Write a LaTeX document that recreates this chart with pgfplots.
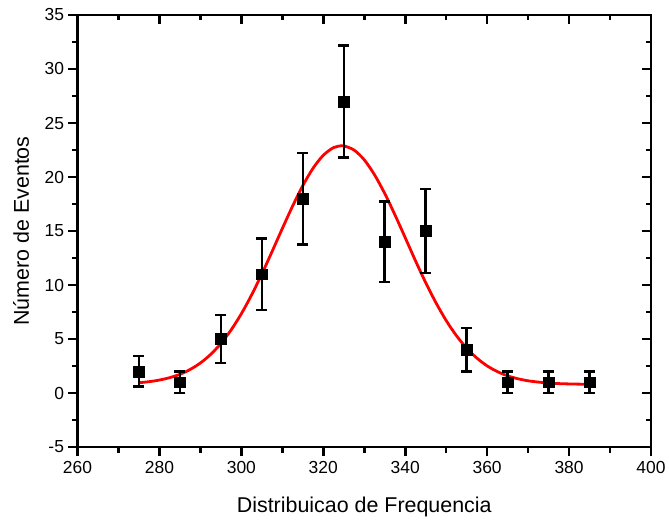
\documentclass[border=0pt]{standalone}
\usepackage{fontspec}
\setmainfont{Liberation Sans}
\usepackage{pgfplots}
\pgfplotsset{compat=1.18}
\usepackage{pgfplotstable}

\pgfplotstableread{
x y err
275 2 1.414
285 1 1.000
295 5 2.236
305 11 3.317
315 18 4.243
325 27 5.196
335 14 3.742
345 15 3.873
355 4 2.000
365 1 1.000
375 1 1.000
385 1 1.000
}\datatable

\pgfplotstableread{
x y
275 0.95
277.5 1.05
280 1.20
282.5 1.42
285 1.73
287.5 2.18
290 2.78
292.5 3.57
295 4.58
297.5 5.84
300 7.34
302.5 9.08
305 11.02
307.5 13.10
310 15.23
312.5 17.30
315 19.20
317.5 20.81
320 22.01
322.5 22.72
324.5 22.90
325 22.89
327.5 22.50
330 21.59
332.5 20.21
335 18.47
337.5 16.49
340 14.38
342.5 12.25
345 10.22
347.5 8.36
350 6.71
352.5 5.31
355 4.15
357.5 3.23
360 2.51
362.5 1.98
365 1.59
367.5 1.32
370 1.13
372.5 1.01
375 0.93
377.5 0.87
380 0.84
382.5 0.82
385 0.81
}\fittable

\begin{document}
\begin{tikzpicture}
\pgfplotsset{
  common/.style={
    scale only axis, width=573.5bp, height=432bp,
    xmin=260, xmax=400, ymin=-5, ymax=35,
    xtick={260,280,...,400}, minor x tick num=1,
    ytick={-5,0,...,35}, minor y tick num=1,
    major tick length=9bp, minor tick length=5.5bp,
    axis line style={line width=2.6bp, black},
    major tick style={black, line width=2.6bp},
    minor tick style={black, line width=2.6bp},
    /pgf/number format/assume math mode=true,
    tick label style={font=\fontsize{17.5}{20}\selectfont},
    label style={font=\fontsize{21.5}{25}\selectfont},
  }
}
\begin{axis}[common,
  tick align=outside, xtick pos=bottom, ytick pos=left,
  xlabel={Distribuicao de Frequencia},
  ylabel={Número de Eventos},
  xlabel style={at={(axis description cs:0.5,0)}, anchor=base, yshift=-65bp},
  ylabel style={at={(axis description cs:0,0.5)}, anchor=center, yshift=56.5bp},
  xticklabel style={yshift=-2bp},
  yticklabel style={xshift=-1bp},
]
\addplot[red, line width=2.8bp, smooth] table[x=x, y=y] {\fittable};
\addplot[black, only marks, mark=square*, mark size=5.4bp,
  error bars/.cd, y dir=both, y explicit,
  error bar style={line width=2.5bp, black},
  error mark options={rotate=90, mark size=5.5bp, line width=2.5bp, black}]
  table[x=x, y=y, y error=err] {\datatable};
\end{axis}
\begin{axis}[common,
  tick align=inside, xtick pos=top, ytick pos=right,
  xticklabels={}, yticklabels={},
]
\end{axis}
\draw[line width=2.6bp, black] (current axis.south west) rectangle (current axis.north east);
\path ([xshift=-77.5bp, yshift=-74bp]current axis.south west) rectangle ([xshift=18bp, yshift=15bp]current axis.north east);
\end{tikzpicture}
\end{document}
